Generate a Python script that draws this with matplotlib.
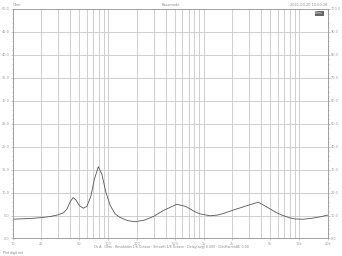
import numpy as np
import matplotlib
matplotlib.use("Agg")
import matplotlib.pyplot as plt
from matplotlib.ticker import FixedLocator, NullFormatter

# impedance curve
freq = [10, 15, 20, 25, 30, 34, 37, 40, 43, 46, 50, 55, 60, 66, 72, 79, 86, 95,
        105, 118, 133, 160, 191, 240, 296, 380, 524, 650, 800, 919, 1170, 1400,
        1640, 2200, 3000, 3750, 4500, 5500, 6600, 8000, 9100, 11000, 13600,
        17000, 20000]
ohm = [4.2, 4.35, 4.55, 4.8, 5.15, 5.6, 6.4, 8.0, 8.9, 8.4, 7.15, 6.6, 7.0,
       9.25, 13.0, 15.65, 14.0, 10.0, 7.25, 5.4, 4.6, 3.9, 3.65, 4.0, 4.75,
       6.1, 7.45, 7.0, 5.9, 5.35, 4.95, 5.1, 5.5, 6.4, 7.3, 7.9, 7.0, 5.9,
       5.1, 4.5, 4.25, 4.2, 4.4, 4.75, 5.1]

x_grid = [20, 30, 40, 50, 60, 70, 80, 90, 100, 200, 300, 400, 500, 600, 700,
          800, 900, 1000, 2000, 3000, 4000, 5000, 6000, 7000, 8000, 9000, 10000]
x_ticks = [10, 20, 50, 100, 200, 500, 1000, 2000, 5000, 10000, 20000]
x_labels = ["10", "20", "50", "100", "200", "500", "1k", "2k", "5k", "10k", "20k"]
left_ticks = np.arange(0, 55, 5)
right_ticks = np.arange(0, 110, 10)

fig = plt.figure(figsize=(3.42, 2.56), dpi=100)
fig.patch.set_facecolor("white")
ax = fig.add_axes([0.0371, 0.0684, 0.921, 0.8965])

grid_c = "#c8c8c8"
for f in x_grid:
    ax.axvline(f, color=grid_c, lw=0.6, zorder=1)
for v in left_ticks[1:-1]:
    ax.axhline(v, color=grid_c, lw=0.6, zorder=1)

ax.plot(freq, ohm, color="#555555", lw=0.6, zorder=3)

ax.set_xscale("log")
ax.set_xlim(10, 20000)
ax.set_ylim(0, 50)

ax.xaxis.set_major_locator(FixedLocator(x_ticks))
ax.xaxis.set_minor_formatter(NullFormatter())
ax.set_xticklabels(x_labels)
ax.set_yticks(left_ticks)
ax.set_yticklabels(["%.1f" % v for v in left_ticks])
ax.yaxis.set_minor_locator(FixedLocator(np.arange(0, 50.1, 1)))
ax.tick_params(axis="both", which="both", labelsize=2.5, colors="#999999",
               length=1.2, width=0.4, pad=1)
ax.tick_params(axis="y", which="minor", length=0.8)
ax.tick_params(axis="x", which="minor", length=0)

ax2 = ax.twinx()
ax2.set_ylim(0, 100)
ax2.set_yticks(right_ticks)
ax2.set_yticklabels(["%.1f" % v for v in right_ticks])
ax2.yaxis.set_minor_locator(FixedLocator(np.arange(0, 100.1, 2)))
ax2.tick_params(axis="y", which="both", labelsize=2.5, colors="#999999",
                length=1.2, width=0.4, pad=1)
ax2.tick_params(axis="y", which="minor", length=0.8)

for a in (ax, ax2):
    for s in a.spines.values():
        s.set_color("#999999")
        s.set_linewidth(0.5)

ax.text(0.985, 0.99, "Ohm", transform=ax.transAxes, fontsize=2.3, ha="right",
        va="top", color="white",
        bbox=dict(boxstyle="square,pad=0.2", fc="#666666", ec="none"))

fig.text(0.037, 0.982, "Ohm", fontsize=2.5, color="#888888", va="center")
fig.text(0.5, 0.982, "Bassmode", fontsize=2.5, color="#888888", ha="center",
         va="center")
fig.text(0.958, 0.982, "2021-03-20 10:50:26", fontsize=2.5, color="#888888",
         ha="right", va="center")
fig.text(0.5, 0.035, "Ch A · Ohm · Resolution 1/6 Octave · Smooth 1/6 Octave · "
         "Delay(avg) 0.000 · DistHarm(dB) 0.00", fontsize=2.3, color="#888888",
         ha="center", va="center")
fig.text(0.008, 0.012, "Plot digit.net", fontsize=2.3, color="#888888",
         va="center")

fig.savefig("out.png", dpi=100, facecolor="white")
